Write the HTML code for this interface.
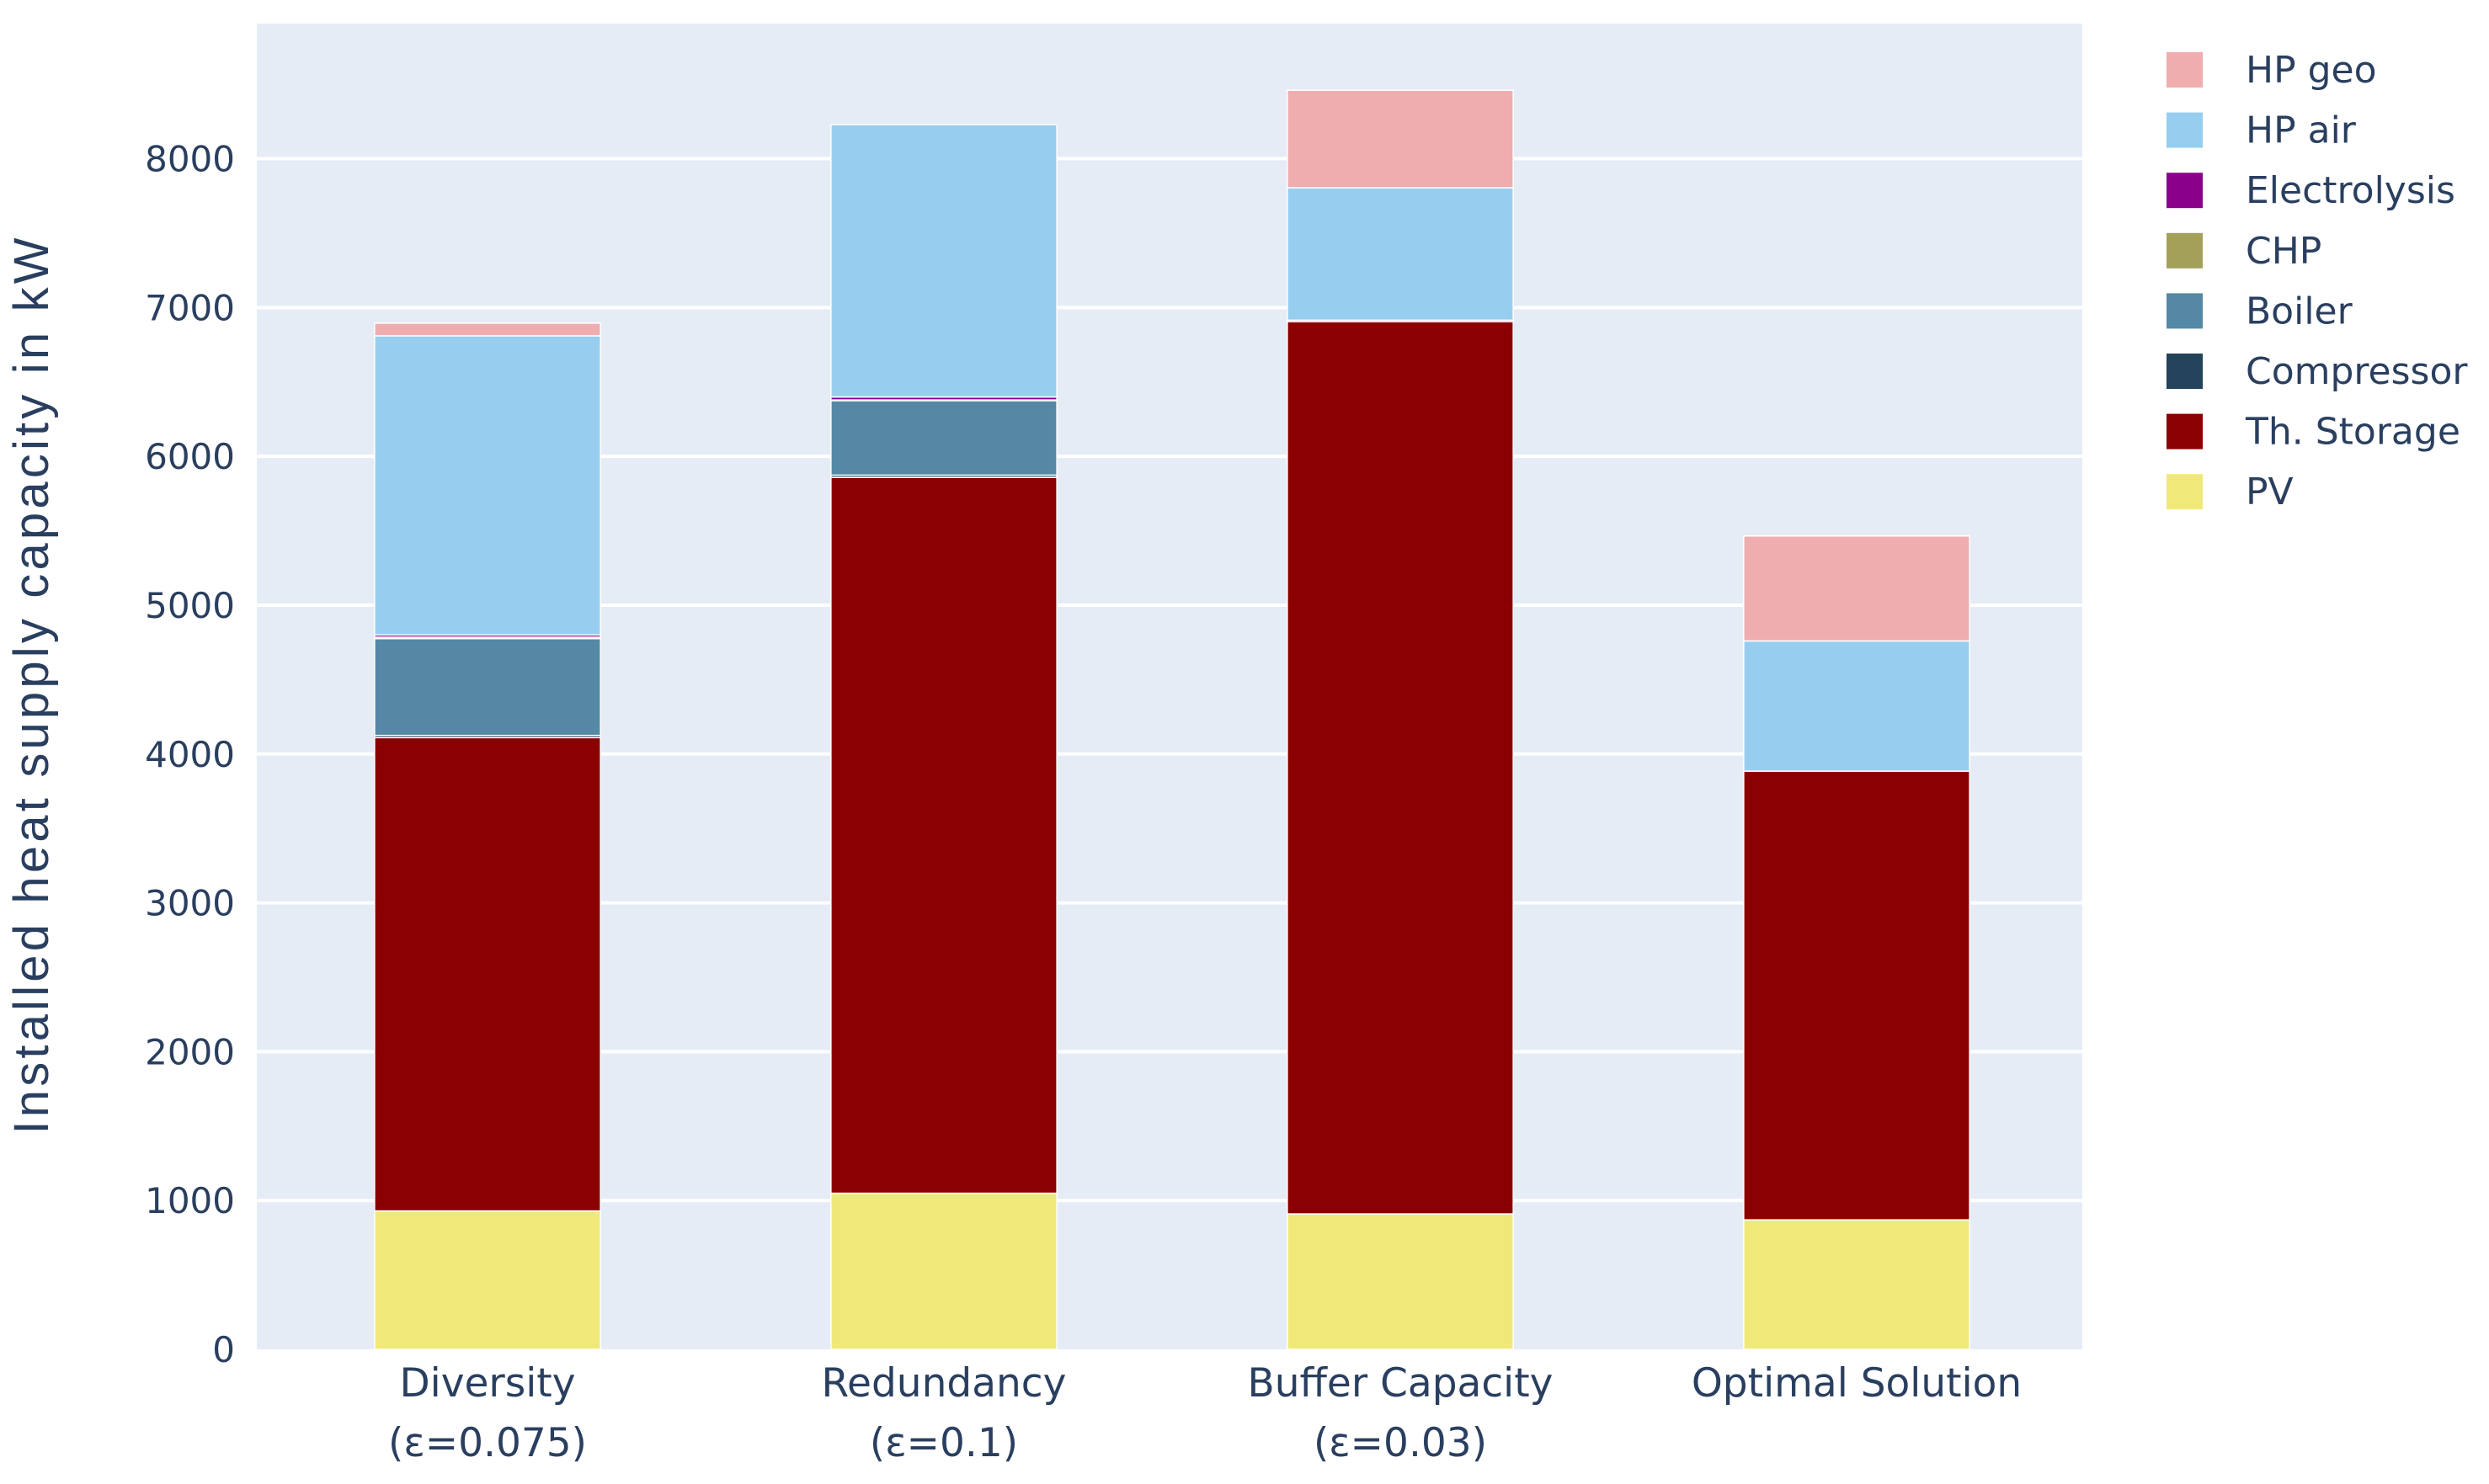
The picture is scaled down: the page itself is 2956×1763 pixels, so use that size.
<!DOCTYPE html>
<html><head><meta charset="utf-8"><style>
html,body{margin:0;padding:0;background:#fff;}
svg{display:block;font-family:"DejaVu Sans","Liberation Sans",sans-serif;}
</style></head><body>
<svg id="chart" width="2956" height="1763" viewBox="0 0 2956 1763">
<rect x="305" y="28" width="2168" height="1575" fill="#e5ecf6"/>
<g id="grid"></g><g id="bars"></g><g id="yticks"></g><g id="xticks"></g><g id="legend"></g>
<text x="57" y="815" transform="rotate(-90 57 815)" text-anchor="middle" font-size="58" fill="#2a3f5f" font-family="Liberation Sans, sans-serif" textLength="1065">Installed heat supply capacity in kW</text>
</svg>
<script>
const categories=[["Diversity","(ε=0.075)"],["Redundancy","(ε=0.1)"],["Buffer Capacity","(ε=0.03)"],["Optimal Solution"]];
const seriesNames=["PV","Th. Storage","Compressor","Boiler","CHP","Electrolysis","HP air","HP geo"];
const seriesColors=["#f0e97a","#8b0000","#22435a","#5588a5","#a3a05a","#8b008b","#97ceef","#efadb0"];
const pv=[930,1049,910,870];
const thStorage=[3180,4810,5995,3015];
const compressor=[15,15,0,0];
const boiler=[650,500,0,0];
const chp=[10,5,0,0];
const electrolysis=[15,20,10,0];
const hpAir=[2010,1830,890,875];
const hpGeo=[85,0,655,705];
const yTicks=[0,1000,2000,3000,4000,5000,6000,7000,8000];
const series=[pv,thStorage,compressor,boiler,chp,electrolysis,hpAir,hpGeo];
const NS="http://www.w3.org/2000/svg";
const X0=305,X1=2473,Y0=1603,YT=28,YMAX=8908;
const y=v=>Y0-(v/YMAX)*(Y0-YT);
const step=(X1-X0)/categories.length;
const xc=i=>X0+step*(i+0.5)+3;
const bw=step*0.495;
function mk(tag,attrs,parent){const e=document.createElementNS(NS,tag);for(const k in attrs)e.setAttribute(k,attrs[k]);document.getElementById(parent).appendChild(e);return e;}
yTicks.forEach(t=>{
  if(t>0){const l=mk("line",{x1:X0,x2:X1,y1:y(t),y2:y(t),stroke:"#fff","stroke-width":4},"grid");
  
  }
  const tx=mk("text",{x:279,y:y(t)+15,"text-anchor":"end","font-size":42,fill:"#2a3f5f"},"yticks");
  tx.textContent=t;
  
  
});
categories.forEach((c,i)=>{
  let base=0;
  series.forEach((s,k)=>{
    const v=s[i];
    if(v>0){
      const r=mk("rect",{x:xc(i)-bw/2,y:y(base+v),width:bw,height:y(base)-y(base+v),fill:seriesColors[k],stroke:"#fff","stroke-width":1.5},"bars");
      
      
    }
    base+=v;
  });
  c.forEach((line,j)=>{
    const t=mk("text",{x:xc(i),y:1659+j*71,"text-anchor":"middle","font-size":47,fill:"#2a3f5f"},"xticks");
    t.textContent=line;
    
    
  });
});
for(let k=seriesNames.length-1,row=0;k>=0;k--,row++){
  const cy=83+row*71.6;
  const r=mk("rect",{x:2573,y:cy-21,width:43,height:42,fill:seriesColors[k]},"legend");
  
  
  const t=mk("text",{x:2667,y:cy+15,"font-size":44,fill:"#2a3f5f"},"legend");
  t.textContent=seriesNames[k];
  
  
}
</script>
</body></html>
